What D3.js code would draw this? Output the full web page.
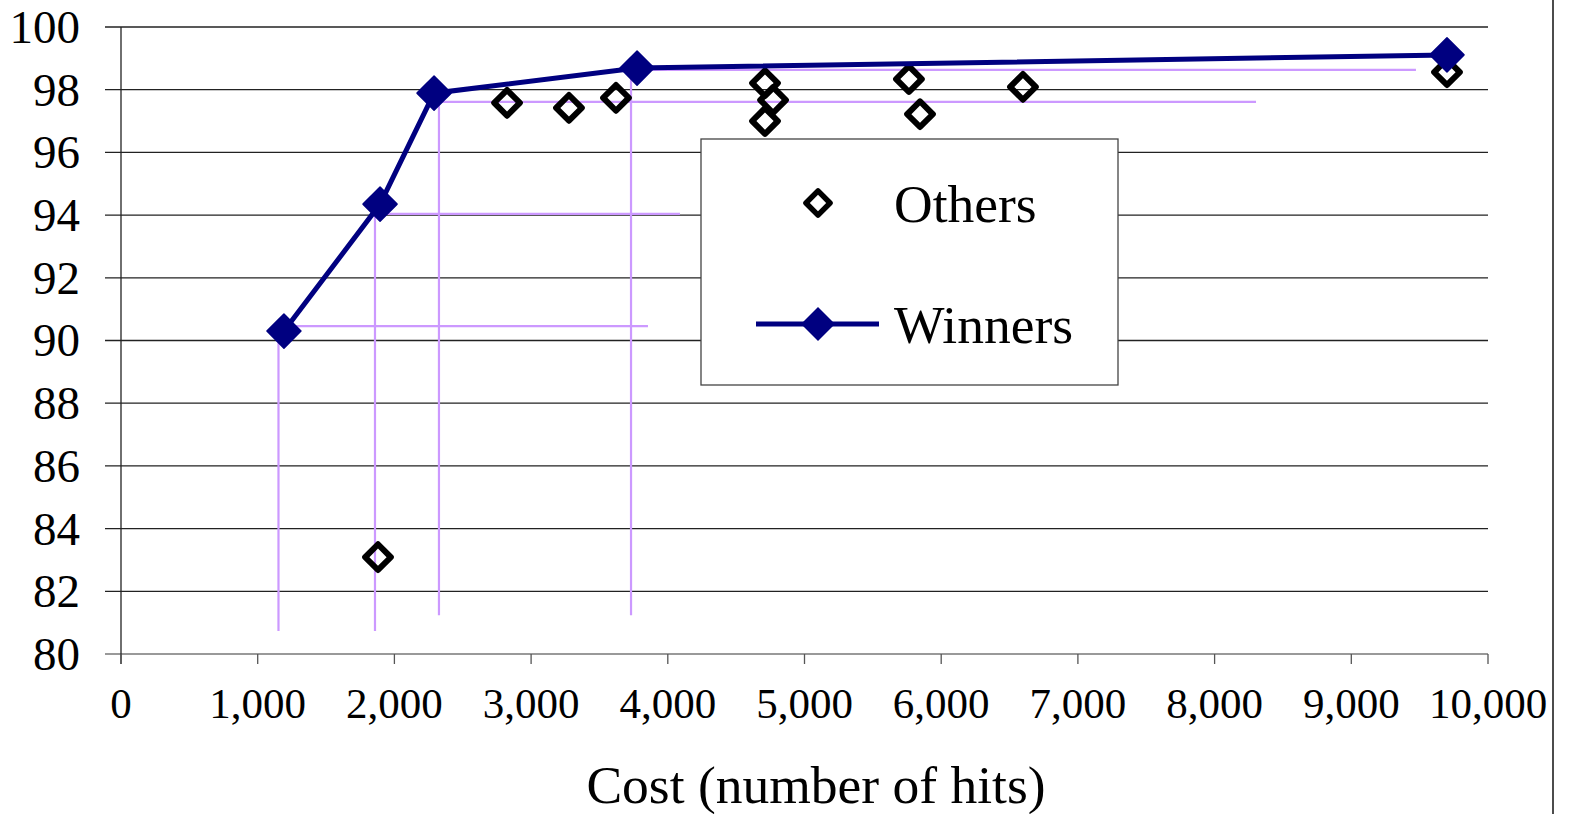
<!DOCTYPE html>
<html lang="en">
<head>
<meta charset="UTF-8">
<title>Cost vs accuracy</title>
<script src="https://cdn.jsdelivr.net/npm/d3@7"></script>
<style>
    body { margin: 0; background: white; }
    svg { display: block; font-family: "Liberation Serif", "Times New Roman", serif; }
</style>
</head>
<body>
<svg></svg>
<script>
    // DATA
    // Winners: the frontier line
    const winnerCost = [1192, 1895, 2290, 3775, 9700];
    const winnerAcc  = [90.30, 94.35, 97.89, 98.69, 99.11];

    // Others: open diamonds
    const otherCost = [1880, 2824, 3277, 3621, 4711, 4770, 4711, 5764, 5845, 6598, 9700];
    const otherAcc  = [83.09, 97.58, 97.42, 97.74, 98.21, 97.67, 97.00, 98.34, 97.22, 98.09, 98.56];

    // Purple drop lines (data units)
    const dropX    = [1152, 1858, 2326, 3731];
    const dropTop  = [90.46, 94.04, 97.61, 98.63];
    const dropBot  = [80.73, 80.73, 81.24, 81.24];
    const dropEndX = [3855, 4089, 8303, 9473];

    const xTicks = d3.range(0, 10001, 1000);
    const yTicks = d3.range(80, 101, 2);
    const xTitle = "Cost (number of hits)";
    const legendNames = ["Others", "Winners"];

    // DIMENSIONS
    const W = 1569, H = 814;
    const plot = {left: 121, right: 1488, top: 27, bottom: 654};

    const svg = d3.select("svg").attr("width", W).attr("height", H);

    // SCALES
    const x = d3.scaleLinear().domain([0, 10000]).range([plot.left, plot.right]);
    const y = d3.scaleLinear().domain([80, 100]).range([plot.bottom, plot.top]);

    // gridlines (also act as the y ticks)
    svg.append("g")
        .selectAll("line")
        .data(yTicks)
        .join("line")
            .attr("x1", plot.left - 16).attr("x2", plot.right)
            .attr("y1", d => y(d)).attr("y2", d => y(d))
            .attr("stroke", d => d === 80 ? "#777" : "#222")
            .attr("stroke-width", 1.3);

    // y labels
    svg.append("g")
        .selectAll("text")
        .data(yTicks)
        .join("text")
            .attr("x", 80).attr("y", d => y(d))
            .attr("dy", "0.34em")
            .attr("text-anchor", "end")
            .style("font-size", "47px")
            .text(d => d);

    // y axis line
    svg.append("line")
        .attr("x1", plot.left).attr("x2", plot.left)
        .attr("y1", plot.top).attr("y2", plot.bottom + 10)
        .attr("stroke", "#222").attr("stroke-width", 1.3);

    // x ticks + labels
    const fmt = d3.format(",");
    svg.append("g")
        .selectAll("line")
        .data(xTicks)
        .join("line")
            .attr("x1", d => x(d)).attr("x2", d => x(d))
            .attr("y1", plot.bottom).attr("y2", plot.bottom + 10)
            .attr("stroke", "#555").attr("stroke-width", 1.3);
    svg.append("g")
        .selectAll("text")
        .data(xTicks)
        .join("text")
            .attr("x", d => x(d)).attr("y", 718)
            .attr("text-anchor", "middle")
            .style("font-size", "43px")
            .text(d => fmt(d));

    svg.append("text")
        .attr("x", 816).attr("y", 803)
        .attr("text-anchor", "middle")
        .style("font-size", "53.5px")
        .text(xTitle);

    // right frame edge
    svg.append("line")
        .attr("x1", 1553).attr("x2", 1553)
        .attr("y1", 0).attr("y2", H)
        .attr("stroke", "#111").attr("stroke-width", 1.5);

    // purple drop lines
    const purple = "#cc99ff";
    const drops = svg.append("g").attr("stroke", purple).attr("stroke-width", 2.2);
    dropX.forEach((dx, i) => {
        drops.append("line")
            .attr("x1", x(dx)).attr("x2", x(dx))
            .attr("y1", y(dropTop[i])).attr("y2", y(dropBot[i]));
        drops.append("line")
            .attr("x1", x(dx)).attr("x2", x(dropEndX[i]))
            .attr("y1", y(dropTop[i])).attr("y2", y(dropTop[i]));
    });

    // markers
    const openDiamond = d3.symbol().type(d3.symbolSquare).size(330);
    const fullDiamond = d3.symbol().type(d3.symbolSquare).size(580);

    svg.append("g")
        .selectAll("path")
        .data(otherCost.map((c, i) => [c, otherAcc[i]]))
        .join("path")
            .attr("d", openDiamond)
            .attr("transform", d => `translate(${x(d[0])},${y(d[1])}) rotate(45)`)
            .attr("fill", "none")
            .attr("stroke", "black")
            .attr("stroke-width", 6)
            .attr("stroke-linejoin", "round");

    const winners = winnerCost.map((c, i) => [c, winnerAcc[i]]);
    svg.append("path")
        .datum(winners)
        .attr("d", d3.line().x(d => x(d[0])).y(d => y(d[1])))
        .attr("fill", "none")
        .attr("stroke", "#000080")
        .attr("stroke-width", 5);

    svg.append("g")
        .selectAll("path")
        .data(winners)
        .join("path")
            .attr("d", fullDiamond)
            .attr("transform", d => `translate(${x(d[0])},${y(d[1])}) rotate(45)`)
            .attr("fill", "#000080")
            .attr("stroke", "#000080")
            .attr("stroke-width", 1.5)
            .attr("stroke-linejoin", "round");

    // LEGEND
    const legend = svg.append("g");
    legend.append("rect")
        .attr("x", 701).attr("y", 139)
        .attr("width", 417).attr("height", 246)
        .attr("fill", "white")
        .attr("stroke", "#444").attr("stroke-width", 1.3);

    legend.append("path")
        .attr("d", d3.symbol().type(d3.symbolSquare).size(290))
        .attr("transform", "translate(818,203) rotate(45)")
        .attr("fill", "none").attr("stroke", "black")
        .attr("stroke-width", 5.5).attr("stroke-linejoin", "round");

    legend.append("line")
        .attr("x1", 756).attr("x2", 879)
        .attr("y1", 324).attr("y2", 324)
        .attr("stroke", "#000080").attr("stroke-width", 5);
    legend.append("path")
        .attr("d", fullDiamond)
        .attr("transform", "translate(818,324) rotate(45)")
        .attr("fill", "#000080");

    legend.selectAll("text.lg")
        .data(legendNames)
        .join("text")
            .attr("class", "lg")
            .attr("x", 894)
            .attr("y", (d, i) => [222, 343][i])
            .style("font-size", "53.5px")
            .text(d => d);
</script>
</body>
</html>
